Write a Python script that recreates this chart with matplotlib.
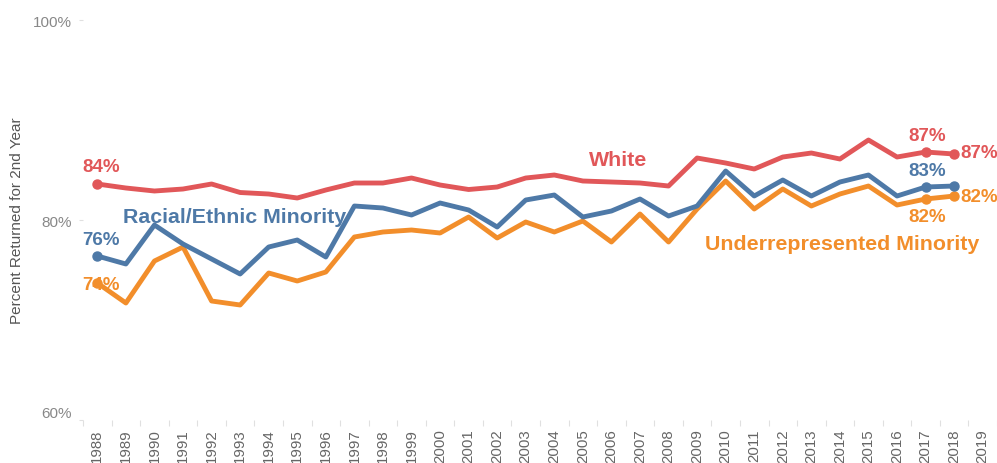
import matplotlib
matplotlib.use("Agg")
import matplotlib.pyplot as plt
import numpy as np

years = list(range(1988, 2019))
tick_years = list(range(1988, 2020))

white = [83.6, 83.2, 82.9, 83.1, 83.6, 82.75, 82.6, 82.2, 83.0, 83.7, 83.7, 84.2, 83.5,
         83.05, 83.3, 84.2, 84.5, 83.9, 83.8, 83.7, 83.4, 86.2, 85.7, 85.1, 86.3, 86.7,
         86.1, 88.0, 86.3, 86.8, 86.6]
rem = [76.4, 75.6, 79.5, 77.6, 76.1, 74.6, 77.3, 78.0, 76.3, 81.4, 81.2, 80.5, 81.7,
       81.0, 79.3, 82.0, 82.5, 80.3, 80.9, 82.1, 80.4, 81.4, 84.9, 82.4, 84.0, 82.4,
       83.8, 84.5, 82.4, 83.3, 83.4]
urm = [73.7, 71.7, 75.9, 77.3, 71.9, 71.5, 74.7, 73.9, 74.8, 78.3, 78.8, 79.0, 78.7,
       80.3, 78.2, 79.8, 78.8, 79.9, 77.8, 80.6, 77.8, 81.1, 83.9, 81.1, 83.1, 81.4,
       82.6, 83.4, 81.5, 82.1, 82.4]

series_names = ["White", "Racial/Ethnic Minority", "Underrepresented Minority"]
colors = {"White": "#E15759", "Racial/Ethnic Minority": "#4E79A7",
          "Underrepresented Minority": "#F28E2B"}
data = {"White": white, "Racial/Ethnic Minority": rem, "Underrepresented Minority": urm}

plt.rcParams['font.family'] = ['Liberation Sans', 'DejaVu Sans']

fig = plt.figure(figsize=(9.97, 4.64), dpi=100)
ax = fig.add_axes([0.0833, 0.0927, 0.9167, 0.862])

for name in ["Underrepresented Minority", "Racial/Ethnic Minority", "White"]:
    vals = data[name]
    c = colors[name]
    ax.plot(years, vals, color=c, lw=3.5, solid_joinstyle='round', solid_capstyle='round', zorder=3)
    idx = [0, len(years) - 2, len(years) - 1]
    ax.plot([years[i] for i in idx], [vals[i] for i in idx], 'o', color=c, ms=6.5, zorder=4)

def lab(name, i, dx, dy, ha='center'):
    v = data[name][i]
    ax.annotate(f"{round(v):.0f}%", (years[i], v), xytext=(dx, dy), textcoords='offset pixels',
                ha=ha, va='center', color=colors[name], fontsize=13.5, fontweight='bold', zorder=5)

lab("White", 0, 4, 18)
lab("Racial/Ethnic Minority", 0, 4, 17)
lab("Underrepresented Minority", 0, 4, -2)
lab("White", -2, 2, 17)
lab("Racial/Ethnic Minority", -2, 2, 17)
lab("Underrepresented Minority", -2, 2, -17)
lab("White", -1, 6, 2, ha='left')
lab("Underrepresented Minority", -1, 6, 0, ha='left')

ax.text(1992.81, 80.4, "Racial/Ethnic Minority", color=colors["Racial/Ethnic Minority"],
        fontsize=15.4, fontweight='bold', ha='center', va='center', zorder=6)
ax.text(2006.24, 86.1, "White", color=colors["White"],
        fontsize=15.4, fontweight='bold', ha='center', va='center', zorder=6)
ax.text(2014.07, 77.7, "Underrepresented Minority", color=colors["Underrepresented Minority"],
        fontsize=15.4, fontweight='bold', ha='center', va='center', zorder=6)

ax.set_xlim(1987.5, 2019.5)
ax.set_ylim(60, 100)
ax.set_xticks(tick_years)
ax.set_xticklabels([str(y) for y in tick_years], rotation=90, fontsize=10.8, color='#666666')
ax.set_xticks(np.arange(1987.5, 2020, 1), minor=True)
ax.tick_params(axis='x', which='major', length=0, pad=6)
ax.tick_params(axis='x', which='minor', length=4, color='#e0e0e0', width=0.8)
ax.set_yticks([60, 80, 100])
ax.set_yticklabels(["60%", "80%", "100%"], fontsize=11, color='#888888')
ax.tick_params(axis='y', length=3, color='#e0e0e0', pad=5)
for t in ax.get_yticklabels():
    if t.get_text() == "60%":
        t.set_va('bottom')
for s in ax.spines.values():
    s.set_visible(False)
ax.set_ylabel("Percent Returned for 2nd Year", fontsize=11, color='#555555')
ax.yaxis.set_label_coords(-0.0645, 0.5)

fig.savefig("out.png", dpi=100, facecolor='white')
